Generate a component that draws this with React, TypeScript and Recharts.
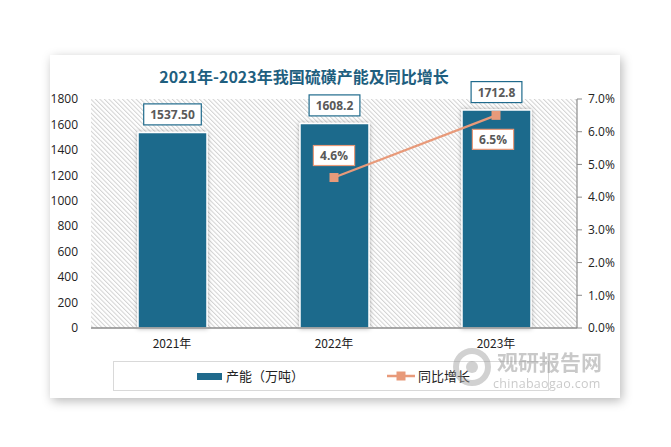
import React from 'react';
import {
  ComposedChart,
  Bar,
  Line,
  XAxis,
  YAxis,
  CartesianGrid,
  LabelList,
} from 'recharts';

// ---- data ----
const years = ['2021年', '2022年', '2023年'];
const capacity = [1537.5, 1608.2, 1712.8];
const capacityText = ['1537.50', '1608.2', '1712.8'];
const growth: (number | null)[] = [null, 4.6, 6.5];
const growthText = ['', '4.6%', '6.5%'];
const leftTicks = [0, 200, 400, 600, 800, 1000, 1200, 1400, 1600, 1800];
const rightTicks = [0, 1, 2, 3, 4, 5, 6, 7];

const TITLE = '2021年-2023年我国硫磺产能及同比增长';
const BAR_NAME = '产能（万吨）';
const LINE_NAME = '同比增长';

const BAR_COLOR = '#1f6a8c';
const LINE_COLOR = '#e89a7a';
const AXIS_COLOR = '#8c8c8c';
const NUM_FONT = '"Open Sans", "Noto Sans", sans-serif';
const CJK_FONT = '"Noto Sans CJK SC", "Noto Sans", sans-serif';

const data = years.map((y, i) => ({
  year: y,
  capacity: capacity[i],
  growth: growth[i],
}));

function textWidth(s: string) {
  return s.length * 6.8 + 10;
}

function BarLabel(props: any) {
  const { x, y, width, index } = props;
  const txt = capacityText[index];
  const w = textWidth(txt);
  const h = 21;
  const cx = x + width / 2;
  const cy = y - 18;
  return (
    <g>
      <rect x={cx - w / 2} y={cy - h / 2} width={w} height={h} fill="#fff" stroke={BAR_COLOR} strokeWidth={1.2} />
      <text x={cx} y={cy} textAnchor="middle" dominantBaseline="central"
        fontFamily={NUM_FONT} fontSize={12} fontWeight={700} fill="#595959">
        {txt}
      </text>
    </g>
  );
}

function LineLabel(props: any) {
  const { x, y, index } = props;
  const txt = growthText[index];
  if (!txt) return null;
  const w = textWidth(txt) + 4;
  const h = 20;
  // 2022 label sits above the point, 2023 below
  const cy = index === 1 ? y - 22 : y + 24;
  const cx = index === 1 ? x : x - 3;
  return (
    <g>
      <rect x={cx - w / 2} y={cy - h / 2} width={w} height={h} fill="#fff" stroke={LINE_COLOR} strokeWidth={1.2} />
      <text x={cx} y={cy} textAnchor="middle" dominantBaseline="central"
        fontFamily={NUM_FONT} fontSize={12} fontWeight={700} fill="#595959">
        {txt}
      </text>
    </g>
  );
}

function SquareDot(props: any) {
  const { cx, cy, value } = props;
  if (value == null || cx == null || cy == null) return null;
  return <rect x={cx - 4.5} y={cy - 4.5} width={9} height={9} fill={LINE_COLOR} />;
}

export default function App() {
  return (
    <div style={{ position: 'absolute', left: 0, top: 0, width: 671, height: 447, background: '#fff', overflow: 'hidden' }}>
      {/* card */}
      <div style={{
        position: 'absolute', left: 50, top: 55, width: 570, height: 343,
        background: '#fff', boxShadow: '2px 3px 10px rgba(0,0,0,0.28)',
      }} />
      <div style={{
        position: 'absolute', left: 0, top: 64, width: 608, textAlign: 'center',
        fontFamily: CJK_FONT, fontSize: 16, fontWeight: 700, color: '#1f5f7f',
      }}>
        {TITLE}
      </div>

      <div style={{ position: 'absolute', left: 0, top: 0 }}>
        <ComposedChart
          width={671}
          height={447}
          data={data}
          margin={{ top: 99, right: 44, bottom: 89, left: 41 }}
          barCategoryGap={0}
        >
          <defs>
            <pattern id="hatch" width="3.2" height="3.2" patternUnits="userSpaceOnUse" patternTransform="rotate(-45)">
              <rect width="3.2" height="3.2" fill="#fff" />
              <line x1="0.5" y1="0" x2="0.5" y2="3.2" stroke="#d2d2d2" strokeWidth={1} />
            </pattern>
            <filter id="barShadow" x="-20%" y="-10%" width="140%" height="120%">
              <feDropShadow dx="0" dy="0" stdDeviation="2" floodColor="#000" floodOpacity="0.3" />
            </filter>
          </defs>
          <CartesianGrid horizontal={false} vertical={false} fill="url(#hatch)" />
          <XAxis
            dataKey="year"
            axisLine={{ stroke: AXIS_COLOR, strokeWidth: 1.5 }}
            tickLine={false}
            tickSize={0}
            tickMargin={11}
            height={30}
            tick={{ fill: '#222', fontSize: 12, fontFamily: CJK_FONT }}
          />
          <YAxis
            yAxisId="left"
            domain={[0, 1800]}
            ticks={leftTicks}
            axisLine={false}
            tickLine={false}
            tickSize={0}
            tickMargin={13}
            width={50}
            interval={0}
            tick={{ fill: '#222', fontSize: 12, fontFamily: NUM_FONT }}
          />
          <YAxis
            yAxisId="right"
            orientation="right"
            domain={[0, 7]}
            ticks={rightTicks}
            tickFormatter={(v: number) => `${v.toFixed(1)}%`}
            axisLine={{ stroke: AXIS_COLOR, strokeWidth: 1.2 }}
            tickLine={{ stroke: AXIS_COLOR }}
            tickSize={5}
            tickMargin={6}
            width={50}
            interval={0}
            tick={{ fill: '#222', fontSize: 12, fontFamily: NUM_FONT }}
          />
          <Bar
            yAxisId="left"
            dataKey="capacity"
            fill={BAR_COLOR}
            stroke="#fff"
            strokeWidth={1.5}
            barSize={69}
            filter="url(#barShadow)"
            isAnimationActive={false}
          >
            <LabelList dataKey="capacity" content={BarLabel} />
          </Bar>
          <Line
            yAxisId="right"
            dataKey="growth"
            stroke={LINE_COLOR}
            strokeWidth={2.2}
            dot={SquareDot}
            activeDot={false}
            isAnimationActive={false}
          >
            <LabelList dataKey="growth" content={LineLabel} />
          </Line>
        </ComposedChart>
      </div>

      {/* legend */}
      <div style={{
        position: 'absolute', left: 113, top: 361, width: 436, height: 30,
        border: '1px solid #d9d9d9', boxSizing: 'border-box',
      }} />
      <div style={{ position: 'absolute', left: 197, top: 373, width: 25, height: 7, background: BAR_COLOR }} />
      <div style={{ position: 'absolute', left: 226, top: 366, fontFamily: CJK_FONT, fontSize: 13, color: '#222' }}>
        {BAR_NAME}
      </div>
      <svg style={{ position: 'absolute', left: 385, top: 368 }} width={32} height={16}>
        <line x1={2} y1={8} x2={30} y2={8} stroke={LINE_COLOR} strokeWidth={2.5} />
        <rect x={11.5} y={3.5} width={9} height={9} fill={LINE_COLOR} />
      </svg>
      <div style={{ position: 'absolute', left: 418, top: 366, fontFamily: CJK_FONT, fontSize: 13, color: '#222' }}>
        {LINE_NAME}
      </div>

      {/* watermark */}
      <svg style={{ position: 'absolute', left: 450, top: 345, opacity: 0.45 }} width={170} height={50}>
        <circle cx={22} cy={22} r={16} fill="none" stroke="#9a9a9a" strokeWidth={6} />
        <circle cx={22} cy={22} r={6} fill="#9a9a9a" />
        <text x={47} y={25} fontFamily={CJK_FONT} fontSize={21} fontWeight={700} fill="#8a8a8a">观研报告网</text>
        <text x={43} y={43} fontFamily={NUM_FONT} fontSize={12.5} letterSpacing={0.3} fill="#8a8a8a">chinabaogao.com</text>
      </svg>
    </div>
  );
}
